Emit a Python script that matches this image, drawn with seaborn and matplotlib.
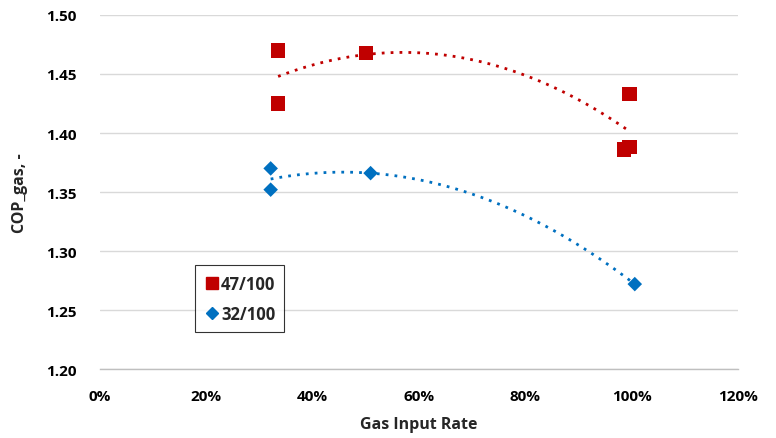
import numpy as np
import pandas as pd
import matplotlib
matplotlib.use("Agg")
import matplotlib.pyplot as plt
import seaborn as sns
from matplotlib.ticker import PercentFormatter, FixedLocator, FormatStrFormatter
from matplotlib.lines import Line2D

# ---- data ----
series_names = ["47/100", "32/100"]
x_47 = [0.335, 0.335, 0.501, 0.996, 0.996, 0.986]
y_47 = [1.470, 1.425, 1.468, 1.433, 1.388, 1.386]
x_32 = [0.321, 0.321, 0.509, 1.006]
y_32 = [1.370, 1.352, 1.366, 1.272]
x_ticks = [0.0, 0.2, 0.4, 0.6, 0.8, 1.0, 1.2]
y_ticks = [1.20, 1.25, 1.30, 1.35, 1.40, 1.45, 1.50]
colors = ["#C00000", "#0070C0"]
markers = ["s", "D"]

df47 = pd.DataFrame({"x": x_47, "y": y_47})
df32 = pd.DataFrame({"x": x_32, "y": y_32})

sns.set_style("white")
plt.rcParams["font.family"] = ["Open Sans", "DejaVu Sans"]

fig = plt.figure(figsize=(7.76, 4.39), dpi=100)
ax = fig.add_axes([0.1289, 0.157, 0.822, 0.8066])

# polynomial (order 2) trendlines, dotted
for (xs, ys), c in zip([(x_47, y_47), (x_32, y_32)], colors):
    coef = np.polyfit(xs, ys, 2)
    xx = np.linspace(min(xs), max(xs), 200)
    ax.plot(xx, np.polyval(coef, xx), linestyle=(0, (1, 2.2)), color=c,
            linewidth=2.0, zorder=2)

sns.scatterplot(data=df47, x="x", y="y", marker="s", color=colors[0],
                s=105, edgecolor="none", ax=ax, zorder=3)
sns.scatterplot(data=df32, x="x", y="y", marker="D", color=colors[1],
                s=55, edgecolor="none", ax=ax, zorder=3)

handles = [Line2D([], [], marker=m, color=c, linestyle="none", markersize=ms)
           for m, c, ms in zip(markers, colors, [8.5, 6])]
leg = ax.legend(handles, series_names, loc="lower left",
                bbox_to_anchor=(0.149, 0.104), frameon=True, fancybox=False,
                edgecolor="#000000", handletextpad=0.1, borderpad=0.55,
                labelspacing=0.75, handlelength=0.9, borderaxespad=0,
                prop={"weight": "bold", "size": 12})
leg.get_frame().set_linewidth(0.8)

ax.set_xlim(0, 1.2)
ax.set_ylim(1.20, 1.50)
ax.xaxis.set_major_locator(FixedLocator(x_ticks))
ax.yaxis.set_major_locator(FixedLocator(y_ticks))
ax.xaxis.set_major_formatter(PercentFormatter(1.0, decimals=0))
ax.yaxis.set_major_formatter(FormatStrFormatter("%.2f"))
ax.grid(axis="y", color="#D9D9D9", linewidth=1.0)
ax.set_axisbelow(True)
for s in ["top", "right", "left"]:
    ax.spines[s].set_visible(False)
ax.spines["bottom"].set_color("#BFBFBF")
ax.spines["bottom"].set_linewidth(1.0)
ax.tick_params(axis="both", length=0, labelsize=11, labelcolor="#000000")
ax.tick_params(axis="x", pad=14)
ax.tick_params(axis="y", pad=17)
for lbl in ax.get_xticklabels() + ax.get_yticklabels():
    lbl.set_fontweight("bold")

ax.set_xlabel("Gas Input Rate", fontsize=11.5, fontweight="bold", labelpad=10)
ax.set_ylabel("COP_gas, -", fontsize=11.5, fontweight="bold")
ax.yaxis.set_label_coords(-0.125, 0.5)
ax.yaxis.label.set_verticalalignment("center")

fig.savefig("out.png", dpi=100)
